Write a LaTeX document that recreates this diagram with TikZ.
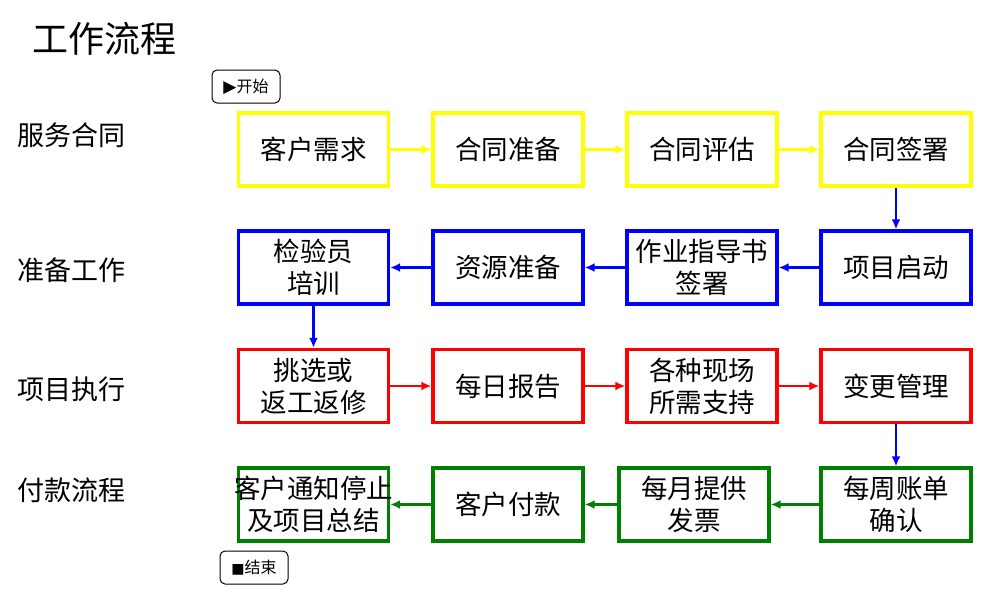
\documentclass[tikz,border=0pt]{standalone}
\usepackage{fontspec}
\setmainfont{Noto Sans CJK SC}
\newfontfamily\symfont{DejaVu Sans}
\usetikzlibrary{arrows.meta}
\definecolor{flowyellow}{RGB}{255,255,0}
\definecolor{flowgreen}{RGB}{0,128,0}

\begin{document}
\begin{tikzpicture}[x=1pt,y=-1pt,
    box/.style={draw,line width=3.3pt,fill=white,minimum width=150pt,
      minimum height=73pt,inner sep=0pt,align=center,
      font=\fontsize{26.5}{32}\selectfont},
    tag/.style={draw,rounded corners=5pt,line width=1pt,minimum width=68pt,
      minimum height=33pt,inner sep=0pt,font=\fontsize{16}{18}\selectfont},
    lane/.style={anchor=west,inner sep=0pt,font=\fontsize{27}{30}\selectfont},
    flow/.style={line width=2.6pt,-{Latex[length=10pt,width=9pt]}}]
  \useasboundingbox (0,0) rectangle (993,595);

  \node[anchor=west,inner sep=0pt,font=\fontsize{36}{40}\selectfont] (title) at (32,39) {工作流程};

  \node[lane] (l1) at (17,135) {服务合同};
  \node[lane] (l2) at (17,270) {准备工作};
  \node[lane] (l3) at (17,389) {项目执行};
  \node[lane] (l4) at (17,490) {付款流程};

  \node[tag] (s) at (246,86.5)  {{\symfont\fontsize{17}{18}\selectfont ▶}开始};
  \node[tag] (e) at (254,567.5) {{\symfont\fontsize{14}{18}\selectfont ■}结束};

  \begin{scope}[every node/.style={box}]
    \node[draw=flowyellow] (1)  at (313.5,149.5) {客户需求};
    \node[draw=flowyellow] (2)  at (508,149.5)   {合同准备};
    \node[draw=flowyellow] (3)  at (702,149.5)   {合同评估};
    \node[draw=flowyellow] (4)  at (896,149.5)   {合同签署};
    \node[draw=blue]       (5)  at (896,267.5)   {项目启动};
    \node[draw=blue]       (6)  at (702,267.5)   {作业指导书\\签署};
    \node[draw=blue]       (7)  at (508,267.5)   {资源准备};
    \node[draw=blue]       (8)  at (313.5,267.5) {检验员\\培训};
    \node[draw=red]        (9)  at (313.5,386)   {挑选或\\返工返修};
    \node[draw=red]        (10) at (508,386)     {每日报告};
    \node[draw=red]        (11) at (702,386)     {各种现场\\所需支持};
    \node[draw=red]        (12) at (896,386)     {变更管理};
    \node[draw=flowgreen]  (13) at (896,504.5)   {每周账单\\确认};
    \node[draw=flowgreen]  (14) at (694,504.5)   {每月提供\\发票};
    \node[draw=flowgreen]  (15) at (508,504.5)   {客户付款};
    \node[draw=flowgreen,inner xsep=-5pt] (16) at (313.5,504.5) {客户通知停止\\及项目总结};
  \end{scope}

  \begin{scope}[every edge/.style={draw,flow}]
    \path[flowyellow] (1)  edge (2);
    \path[flowyellow] (2)  edge (3);
    \path[flowyellow] (3)  edge (4);
    \path[blue]       (4)  edge (5);
    \path[blue]       (5)  edge (6);
    \path[blue]       (6)  edge (7);
    \path[blue]       (7)  edge (8);
    \path[blue]       (8)  edge (9);
    \path[red]        (9)  edge (10);
    \path[red]        (10) edge (11);
    \path[red]        (11) edge (12);
    \path[blue]       (12) edge (13);
    \path[flowgreen]  (13) edge (14);
    \path[flowgreen]  (14) edge (15);
    \path[flowgreen]  (15) edge (16);
  \end{scope}

\end{tikzpicture}
\end{document}
